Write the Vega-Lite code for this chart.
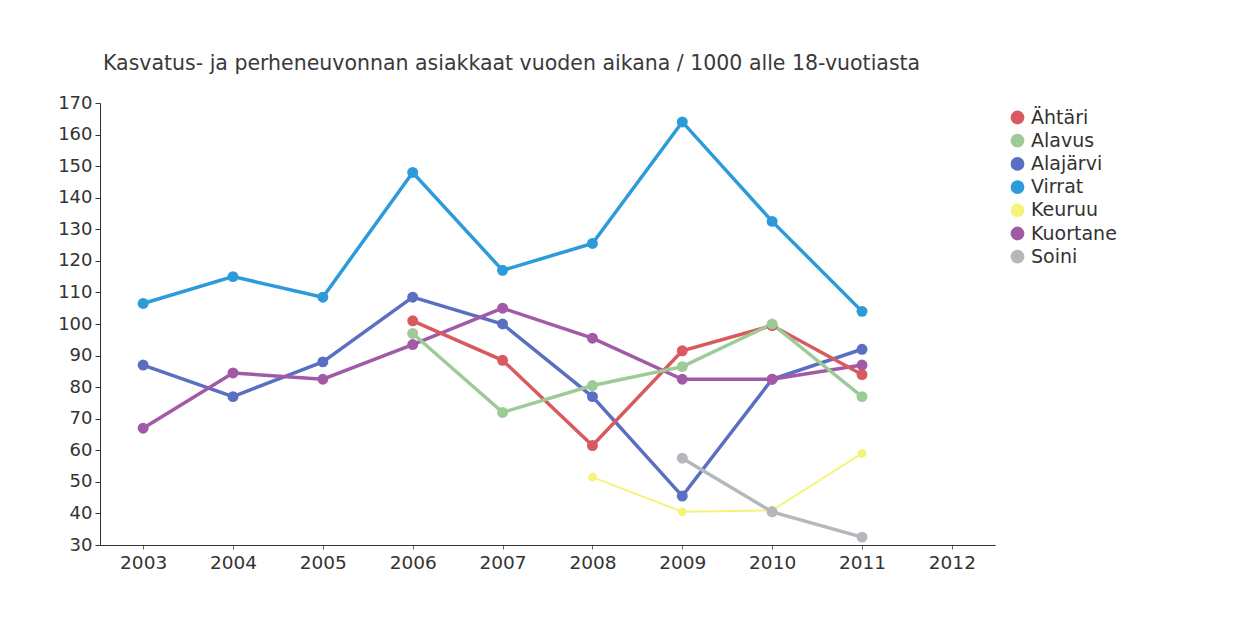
{
  "$schema": "https://vega.github.io/schema/vega-lite/v6.json",
  "width": 895,
  "height": 442,
  "autosize": {"type": "none"},
  "padding": {"left": 100, "top": 103, "right": 264, "bottom": 72},
  "background": "white",
  "title": {
    "text": "Kasvatus- ja perheneuvonnan asiakkaat vuoden aikana / 1000 alle 18-vuotiasta",
    "anchor": "start",
    "frame": "group",
    "dx": 3,
    "offset": 20,
    "font": "DejaVu Sans",
    "fontSize": 20.5,
    "fontWeight": "normal",
    "color": "#3a3a3a"
  },
  "data": {
    "values": [
      {"kunta": "Virrat", "vuosi": 2003, "arvo": 106.5},
      {"kunta": "Virrat", "vuosi": 2004, "arvo": 115},
      {"kunta": "Virrat", "vuosi": 2005, "arvo": 108.5},
      {"kunta": "Virrat", "vuosi": 2006, "arvo": 148},
      {"kunta": "Virrat", "vuosi": 2007, "arvo": 117},
      {"kunta": "Virrat", "vuosi": 2008, "arvo": 125.5},
      {"kunta": "Virrat", "vuosi": 2009, "arvo": 164},
      {"kunta": "Virrat", "vuosi": 2010, "arvo": 132.5},
      {"kunta": "Virrat", "vuosi": 2011, "arvo": 104},
      {"kunta": "Alajärvi", "vuosi": 2003, "arvo": 87},
      {"kunta": "Alajärvi", "vuosi": 2004, "arvo": 77},
      {"kunta": "Alajärvi", "vuosi": 2005, "arvo": 88},
      {"kunta": "Alajärvi", "vuosi": 2006, "arvo": 108.5},
      {"kunta": "Alajärvi", "vuosi": 2007, "arvo": 100},
      {"kunta": "Alajärvi", "vuosi": 2008, "arvo": 77},
      {"kunta": "Alajärvi", "vuosi": 2009, "arvo": 45.5},
      {"kunta": "Alajärvi", "vuosi": 2010, "arvo": 82.5},
      {"kunta": "Alajärvi", "vuosi": 2011, "arvo": 92},
      {"kunta": "Kuortane", "vuosi": 2003, "arvo": 67},
      {"kunta": "Kuortane", "vuosi": 2004, "arvo": 84.5},
      {"kunta": "Kuortane", "vuosi": 2005, "arvo": 82.5},
      {"kunta": "Kuortane", "vuosi": 2006, "arvo": 93.5},
      {"kunta": "Kuortane", "vuosi": 2007, "arvo": 105},
      {"kunta": "Kuortane", "vuosi": 2008, "arvo": 95.5},
      {"kunta": "Kuortane", "vuosi": 2009, "arvo": 82.5},
      {"kunta": "Kuortane", "vuosi": 2010, "arvo": 82.5},
      {"kunta": "Kuortane", "vuosi": 2011, "arvo": 87},
      {"kunta": "Ähtäri", "vuosi": 2006, "arvo": 101},
      {"kunta": "Ähtäri", "vuosi": 2007, "arvo": 88.5},
      {"kunta": "Ähtäri", "vuosi": 2008, "arvo": 61.5},
      {"kunta": "Ähtäri", "vuosi": 2009, "arvo": 91.5},
      {"kunta": "Ähtäri", "vuosi": 2010, "arvo": 99.5},
      {"kunta": "Ähtäri", "vuosi": 2011, "arvo": 84},
      {"kunta": "Alavus", "vuosi": 2006, "arvo": 97},
      {"kunta": "Alavus", "vuosi": 2007, "arvo": 72},
      {"kunta": "Alavus", "vuosi": 2008, "arvo": 80.5},
      {"kunta": "Alavus", "vuosi": 2009, "arvo": 86.5},
      {"kunta": "Alavus", "vuosi": 2010, "arvo": 100},
      {"kunta": "Alavus", "vuosi": 2011, "arvo": 77},
      {"kunta": "Keuruu", "vuosi": 2008, "arvo": 51.5},
      {"kunta": "Keuruu", "vuosi": 2009, "arvo": 40.5},
      {"kunta": "Keuruu", "vuosi": 2010, "arvo": 41},
      {"kunta": "Keuruu", "vuosi": 2011, "arvo": 59},
      {"kunta": "Soini", "vuosi": 2009, "arvo": 57.5},
      {"kunta": "Soini", "vuosi": 2010, "arvo": 40.5},
      {"kunta": "Soini", "vuosi": 2011, "arvo": 32.5}
    ]
  },
  "encoding": {
    "x": {
      "field": "vuosi",
      "type": "ordinal",
      "scale": {"type": "point", "domain": [2003, 2004, 2005, 2006, 2007, 2008, 2009, 2010, 2011, 2012], "padding": 0.48},
      "axis": {
        "title": null,
        "labelAngle": 0,
        "labelFont": "DejaVu Sans",
        "labelFontSize": 18.5,
        "labelColor": "#333333",
        "labelPadding": 4,
        "domainColor": "#333333",
        "tickColor": "#666666",
        "tickSize": 4,
        "grid": false
      }
    },
    "y": {
      "field": "arvo",
      "type": "quantitative",
      "scale": {"domain": [30, 170], "nice": false, "zero": false},
      "axis": {
        "title": null,
        "values": [30, 40, 50, 60, 70, 80, 90, 100, 110, 120, 130, 140, 150, 160, 170],
        "labelFont": "DejaVu Sans",
        "labelFontSize": 18,
        "labelColor": "#333333",
        "labelPadding": 3,
        "domainColor": "#333333",
        "tickColor": "#333333",
        "tickSize": 5,
        "grid": false
      }
    },
    "color": {
      "field": "kunta",
      "type": "nominal",
      "scale": {
        "domain": ["Ähtäri", "Alavus", "Alajärvi", "Virrat", "Keuruu", "Kuortane", "Soini"],
        "range": ["#d95a5e", "#9ccb98", "#5b6fc2", "#2d9bd9", "#f4f47a", "#a35aa6", "#b4b8bc"]
      },
      "legend": {
        "orient": "none",
        "legendX": 908,
        "legendY": 5,
        "title": null,
        "symbolType": "circle",
        "symbolSize": 190,
        "symbolStrokeWidth": 0,
        "symbolOpacity": 1,
        "labelFont": "DejaVu Sans",
        "labelFontSize": 19,
        "labelColor": "#333333",
        "rowPadding": 3.2,
        "labelOffset": 4
      }
    }
  },
  "layer": [
    {
      "mark": {"type": "line"},
      "encoding": {
        "strokeWidth": {"condition": {"test": "datum.kunta === 'Keuruu'", "value": 2}, "value": 3.5}
      }
    },
    {
      "mark": {"type": "point", "filled": true, "opacity": 1},
      "encoding": {
        "size": {"condition": {"test": "datum.kunta === 'Keuruu'", "value": 80}, "value": 120}
      }
    }
  ],
  "config": {
    "view": {"stroke": null}
  }
}
